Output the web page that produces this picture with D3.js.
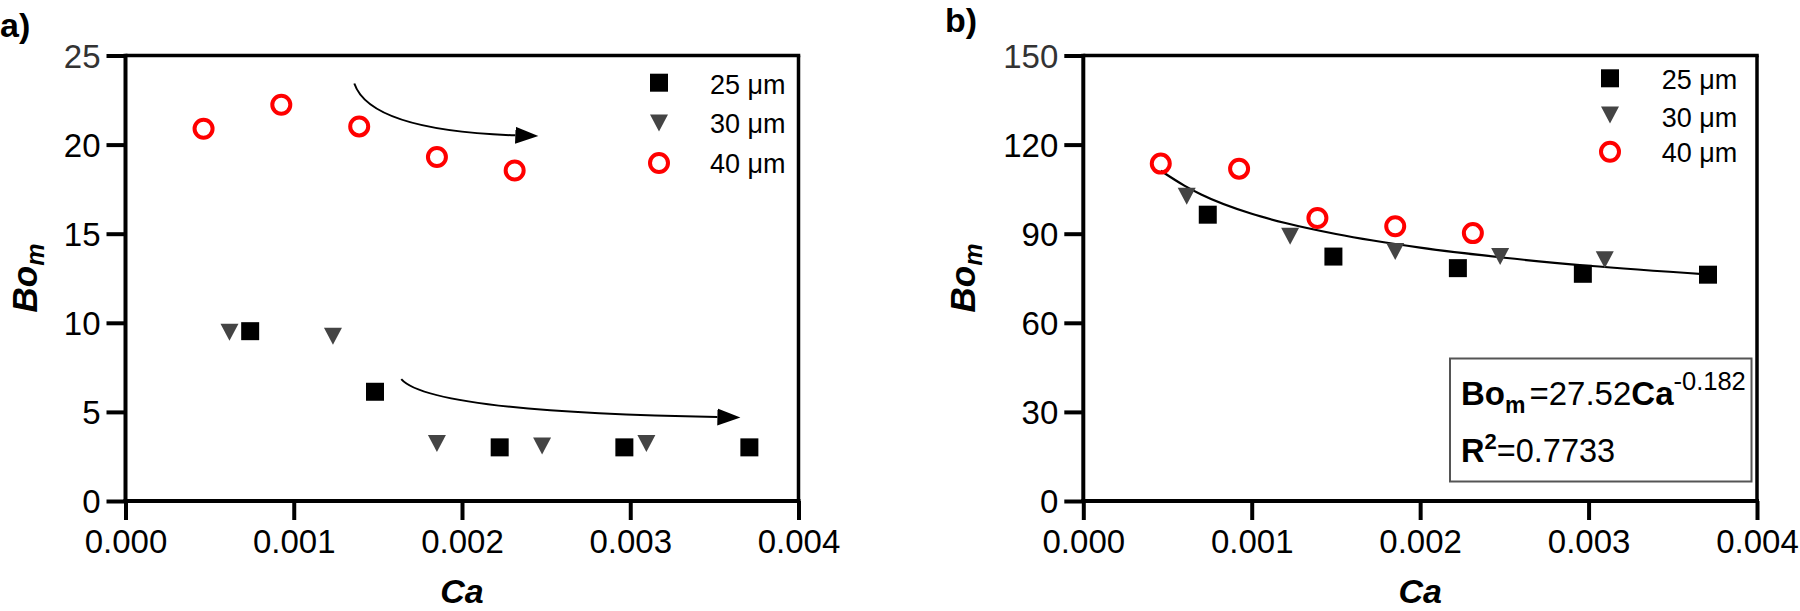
<!DOCTYPE html>
<html>
<head>
<meta charset="utf-8">
<script src="https://cdn.jsdelivr.net/npm/d3@7"></script>
<style>
  html, body { margin: 0; padding: 0; background: #fff; }
  svg { display: block; }
  text { font-family: "Liberation Sans", Arial, Helvetica, sans-serif; }
</style>
</head>
<body>
<svg id="chart" width="1800" height="611"></svg>
<script>
// ---------------- DATA ----------------
const xTicks = [0, 0.001, 0.002, 0.003, 0.004];
const xTickLabels = ["0.000", "0.001", "0.002", "0.003", "0.004"];
const yTicksA = [0, 5, 10, 15, 20, 25];
const yTicksB = [0, 30, 60, 90, 120, 150];
const seriesNames = ["25 μm", "30 μm", "40 μm"];

// panel a
const aCa25 = [0.000741, 0.001483, 0.002224, 0.002965, 0.003708];
const aBo25 = [9.53, 6.13, 3.01, 3.01, 3.01];
const aCa30 = [0.000618, 0.001233, 0.001851, 0.002476, 0.003096];
const aBo30 = [9.47, 9.25, 3.23, 3.08, 3.23];
const aCa40 = [0.000464, 0.000926, 0.001389, 0.001851, 0.002313];
const aBo40 = [20.89, 22.24, 21.02, 19.30, 18.55];

// panel b
const bCa25 = [0.000739, 0.001485, 0.002224, 0.002966, 0.003709];
const bBo25 = [96.4, 82.3, 78.4, 76.5, 76.2];
const bCa30 = [0.000614, 0.001228, 0.001852, 0.002475, 0.003096];
const bBo30 = [102.6, 89.1, 84.0, 82.3, 81.2];
const bCa40 = [0.000460, 0.000925, 0.001390, 0.001852, 0.002313];
const bBo40 = [113.6, 111.9, 95.3, 92.5, 90.2];

// fitted curve in panel b
const fitCa = [0.00046, 0.0006, 0.0007, 0.001, 0.0012, 0.0015, 0.002, 0.0025, 0.003, 0.0037];
const fitBo = [111.2, 106.2, 103.2, 96.7, 93.6, 89.9, 85.3, 81.9, 79.2, 76.3];

// annotation arrows in panel a: [start, control, end] in data units
const arrow1Ca = [0.00136, 0.001455, 0.002317];
const arrow1Bo = [23.43, 20.8, 20.52];
const arrow2Ca = [0.001639, 0.001812, 0.003518];
const arrow2Bo = [6.84, 4.99, 4.71];

// ---------------- DRAW ----------------
const svg = d3.select("#chart");
const FONT = '"Liberation Sans", Arial, Helvetica, sans-serif';

svg.append("defs").append("marker")
  .attr("id", "head")
  .attr("markerUnits", "userSpaceOnUse")
  .attr("viewBox", "0 -9 24 18")
  .attr("refX", 0).attr("refY", 0)
  .attr("markerWidth", 24).attr("markerHeight", 18)
  .attr("orient", "auto")
  .append("path").attr("d", "M0,-8.5L23,0L0,8.5Z").attr("fill", "#000");

function drawPanel(cfg) {
  const g = svg.append("g");
  const x = d3.scaleLinear().domain([0, 0.004]).range([cfg.x0, cfg.x1]);
  const y = d3.scaleLinear().domain([0, cfg.yMax]).range([501, 55.5]);

  // frame top/right
  g.append("line").attr("x1", x(0)).attr("x2", x(0.004) + 1.75)
    .attr("y1", y(cfg.yMax)).attr("y2", y(cfg.yMax))
    .attr("stroke", "#000").attr("stroke-width", 3.5);
  g.append("line").attr("x1", x(0.004)).attr("x2", x(0.004))
    .attr("y1", y(cfg.yMax)).attr("y2", y(0))
    .attr("stroke", "#000").attr("stroke-width", 3.5);

  // axes
  const yAxis = d3.axisLeft(y).tickValues(cfg.yTicks).tickSize(19).tickSizeOuter(0).tickPadding(6);
  const gy = g.append("g").attr("transform", `translate(${x(0)},0)`).call(yAxis);
  const xAxis = d3.axisBottom(x).tickValues(xTicks).tickSize(19).tickSizeOuter(0).tickPadding(10)
    .tickFormat((d, i) => xTickLabels[i]);
  const gx = g.append("g").attr("transform", `translate(0,${y(0)})`).call(xAxis);
  [gx, gy].forEach(ax => {
    ax.select(".domain").attr("stroke", "#000").attr("stroke-width", 4);
    ax.selectAll(".tick line").attr("stroke", "#000").attr("stroke-width", 4);
    ax.selectAll(".tick text").attr("font-family", FONT).attr("font-size", 33).attr("fill", "#000");
  });
  gy.select(".domain").attr("d", `M0,${y(0) + 2}V${y(cfg.yMax) - 1.75}`);
  gx.select(".domain").attr("d", `M${x(0) - 2},0H${x(0.004) + 2}`);
  gy.selectAll(".tick text").attr("dy", "0.36em");
  gy.selectAll(".tick").filter(d => d === cfg.yMax).select("text").attr("fill", "#333");

  // axis titles
  const yt = g.append("text")
    .attr("transform", `translate(${cfg.yTitleX},278) rotate(-90)`)
    .attr("text-anchor", "middle")
    .attr("font-family", FONT).attr("font-weight", "bold").attr("font-style", "italic")
    .attr("font-size", 35);
  yt.append("tspan").text("Bo");
  yt.append("tspan").attr("font-size", 25).attr("dy", 7).text("m");

  g.append("text")
    .attr("x", (x(0) + x(0.004)) / 2).attr("y", 603)
    .attr("text-anchor", "middle")
    .attr("font-family", FONT).attr("font-weight", "bold").attr("font-style", "italic")
    .attr("font-size", 34).text("Ca");

  // panel letter
  g.append("text").attr("x", cfg.letterX).attr("y", cfg.letterY)
    .attr("font-family", FONT).attr("font-weight", "bold").attr("font-size", 34)
    .text(cfg.letter);

  // fit curve
  if (cfg.fit) {
    const pts = cfg.fit[0].map((c, i) => [c, cfg.fit[1][i]]);
    g.append("path")
      .attr("d", d3.line().x(d => x(d[0])).y(d => y(d[1])).curve(d3.curveMonotoneX)(pts))
      .attr("fill", "none").attr("stroke", "#000").attr("stroke-width", 2.2);
  }

  // arrows
  (cfg.arrows || []).forEach(a => {
    const p = a[0].map((c, i) => [x(c), y(a[1][i])]);
    const path = d3.path();
    path.moveTo(p[0][0], p[0][1]);
    path.quadraticCurveTo(p[1][0], p[1][1], p[2][0], p[2][1]);
    g.append("path").attr("d", path.toString())
      .attr("fill", "none").attr("stroke", "#000").attr("stroke-width", 2)
      .attr("marker-end", "url(#head)");
  });

  // markers
  const sq = (cx, cy) => `M${cx - 9},${cy - 9}h18v18h-18Z`;
  const tri = (cx, cy) => `M${cx - 9},${cy - 8.5}L${cx + 9},${cy - 8.5}L${cx},${cy + 8.5}Z`;
  cfg.s25[0].forEach((c, i) => g.append("path").attr("d", sq(x(c), y(cfg.s25[1][i]))).attr("fill", "#000"));
  cfg.s30[0].forEach((c, i) => g.append("path").attr("d", tri(x(c), y(cfg.s30[1][i]))).attr("fill", "#444"));
  cfg.s40[0].forEach((c, i) => g.append("circle").attr("cx", x(c)).attr("cy", y(cfg.s40[1][i])).attr("r", 9)
    .attr("fill", "none").attr("stroke", "#ff0000").attr("stroke-width", 4));

  // legend
  const L = cfg.legend;
  L.sy.forEach((sy, i) => {
    if (i === 0) g.append("path").attr("d", sq(L.sx, sy)).attr("fill", "#000");
    if (i === 1) g.append("path").attr("d", tri(L.sx, sy)).attr("fill", "#444");
    if (i === 2) g.append("circle").attr("cx", L.sx).attr("cy", sy).attr("r", 9)
      .attr("fill", "none").attr("stroke", "#ff0000").attr("stroke-width", 4);
    g.append("text").attr("x", L.tx).attr("y", L.ty[i])
      .attr("font-family", FONT).attr("font-size", 27).attr("fill", "#000")
      .text(seriesNames[i]);
  });
  return { g, x, y };
}

drawPanel({
  x0: 125.5, x1: 798.5, yMax: 25, yTicks: yTicksA, yTitleX: 37,
  letter: "a)", letterX: 0, letterY: 37,
  s25: [aCa25, aBo25], s30: [aCa30, aBo30], s40: [aCa40, aBo40],
  arrows: [[arrow1Ca, arrow1Bo], [arrow2Ca, arrow2Bo]],
  legend: { sx: 659, sy: [82.7, 123, 163], tx: 710, ty: [94, 133.3, 173.3] }
});

const pb = drawPanel({
  x0: 1083.3, x1: 1757, yMax: 150, yTicks: yTicksB, yTitleX: 975,
  letter: "b)", letterX: 945, letterY: 32,
  s25: [bCa25, bBo25], s30: [bCa30, bBo30], s40: [bCa40, bBo40],
  fit: [fitCa, fitBo],
  legend: { sx: 1610, sy: [78.3, 115, 151.7], tx: 1661.7, ty: [89.3, 126.7, 162] }
});

// equation box in panel b
const box = pb.g.append("g");
box.append("rect").attr("x", 1450).attr("y", 358.5).attr("width", 301.5).attr("height", 123)
  .attr("fill", "none").attr("stroke", "#555").attr("stroke-width", 2);
const t1 = box.append("text").attr("x", 1461).attr("y", 405)
  .attr("font-family", FONT).attr("font-size", 33).attr("fill", "#000");
t1.append("tspan").attr("font-weight", "bold").text("Bo");
t1.append("tspan").attr("font-weight", "bold").attr("font-size", 23).attr("dy", 8).text("m");
t1.append("tspan").attr("dy", -8).attr("dx", 4).text("=27.52");
t1.append("tspan").attr("font-weight", "bold").text("Ca");
t1.append("tspan").attr("font-size", 25.5).attr("dy", -15).text("-0.182");
const t2 = box.append("text").attr("x", 1461).attr("y", 461.7)
  .attr("font-family", FONT).attr("font-size", 32.5).attr("fill", "#000");
t2.append("tspan").attr("font-weight", "bold").text("R");
t2.append("tspan").attr("font-weight", "bold").attr("font-size", 22).attr("dy", -13).text("2");
t2.append("tspan").attr("dy", 13).text("=0.7733");
</script>
</body>
</html>
